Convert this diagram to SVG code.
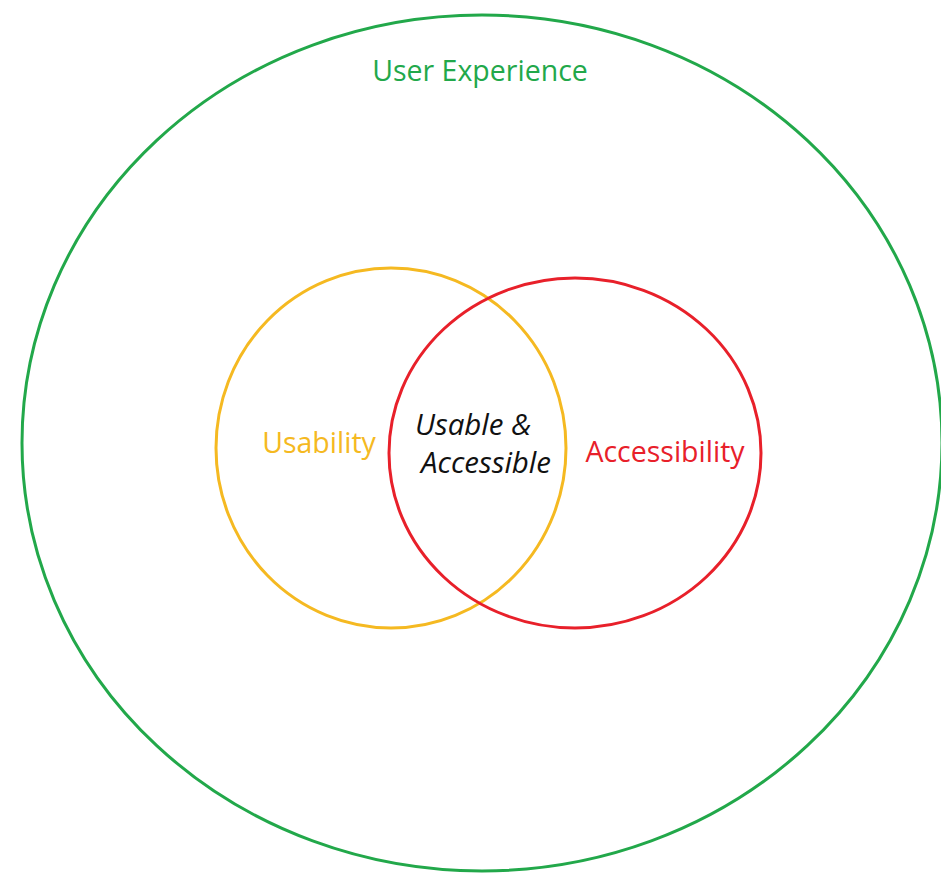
<svg xmlns="http://www.w3.org/2000/svg" width="941" height="874" viewBox="0 0 941 874">
<style>
.ring{fill:none;stroke-width:3}
.lbl{font-family:"Open Sans","Liberation Sans",sans-serif;font-size:28.5px;text-anchor:middle}
.it{font-style:italic;font-size:29.5px}
</style>
<rect width="941" height="874" fill="#fff"/>
<g id="user-experience">
<ellipse class="ring" cx="482" cy="443" rx="460" ry="428" stroke="#22a84a"/>
<text class="lbl" x="480" y="81" fill="#22a84a">User Experience</text>
</g>
<g id="usability">
<ellipse class="ring" cx="391" cy="448" rx="175" ry="180" stroke="#f5b921"/>
<text class="lbl" x="319" y="453" fill="#f5b921">Usability</text>
</g>
<g id="accessibility">
<ellipse class="ring" cx="575" cy="453" rx="186" ry="175" stroke="#e8202a"/>
<text class="lbl" x="665" y="462" fill="#e8202a">Accessibility</text>
</g>
<g id="intersection">
<text class="lbl it" x="473" y="435" fill="#111">Usable &amp;</text>
<text class="lbl it" x="486" y="473" fill="#111">Accessible</text>
</g>
<g id="connectors"></g>
</svg>
